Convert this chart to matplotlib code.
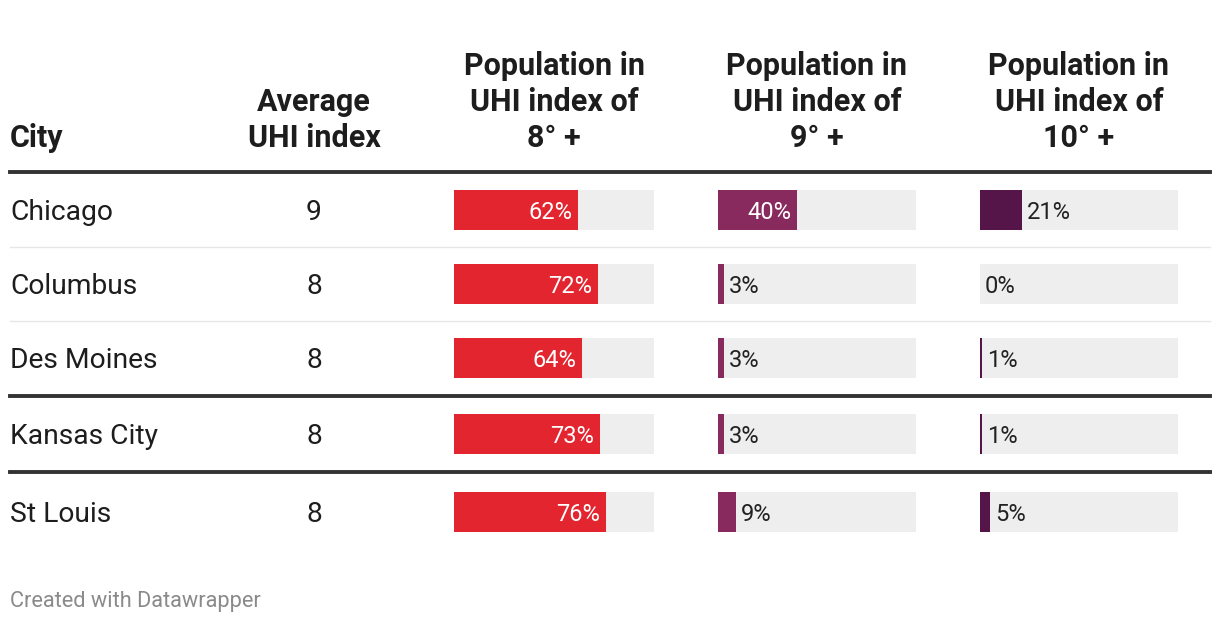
import matplotlib.pyplot as plt
from matplotlib.lines import Line2D

plt.rcParams['font.family'] = ['Roboto', 'DejaVu Sans']

cities = ["Chicago", "Columbus", "Des Moines", "Kansas City", "St Louis"]
avg_uhi = [9, 8, 8, 8, 8]
pop_8 = [62, 72, 64, 73, 76]
pop_9 = [40, 3, 3, 3, 9]
pop_10 = [21, 0, 1, 1, 5]

headers = [
    ["City"],
    ["Average", "UHI index"],
    ["Population in", "UHI index of", "8\u00b0 +"],
    ["Population in", "UHI index of", "9\u00b0 +"],
    ["Population in", "UHI index of", "10\u00b0 +"],
]

W, H = 1220, 624
fig = plt.figure(figsize=(W / 100, H / 100), dpi=100)
ax = fig.add_axes([0, 0, 1, 1])
ax.set_xlim(0, W)
ax.set_ylim(H, 0)
ax.axis('off')

row_y = [210, 284, 358, 434, 512]
bar_h = 40
dark = '#1d1d1d'

# header
header_x = [10, 314, 554, 817, 1079]
header_ha = ['left', 'center', 'center', 'center', 'center']
baselines = [75, 111, 147]
for hx, ha, lines in zip(header_x, header_ha, headers):
    for line, by in zip(lines, baselines[-len(lines):]):
        ax.text(hx, by, line, ha=ha, va='baseline', fontsize=22,
                fontweight='bold', color=dark)

# rule lines
ax.add_line(Line2D([10, 1210], [172, 172], color='#333333', lw=2.8))
for yy in [247, 321]:
    ax.add_line(Line2D([10, 1210], [yy, yy], color='#e6e6e6', lw=1))
for yy in [396, 472]:
    ax.add_line(Line2D([10, 1210], [yy, yy], color='#333333', lw=2.8))

# city names and average index
for name, val, ry in zip(cities, avg_uhi, row_y):
    ax.text(10, ry + 10, name, ha='left', va='baseline', fontsize=20.3, color=dark)
    ax.text(314, ry + 10, str(val), ha='center', va='baseline', fontsize=20.3, color=dark)

# bar columns
columns = [
    (454, 654, pop_8, '#e3252f'),
    (718, 916, pop_9, '#892a5f'),
    (980, 1178, pop_10, '#561548'),
]
for x0, x1, vals, col in columns:
    bx = fig.add_axes([x0 / W, 0, (x1 - x0) / W, 1])
    bx.set_xlim(0, 100)
    bx.set_ylim(H, 0)
    bx.axis('off')
    bx.patch.set_alpha(0)
    bx.barh(row_y, [100] * len(vals), height=bar_h, color='#eeeeee', left=0)
    bx.barh(row_y, vals, height=bar_h, color=col)
    for v, ry in zip(vals, row_y):
        label = f"{v}%"
        if v >= 30:
            bx.annotate(label, (v, ry + 9), xytext=(-6, 0), textcoords='offset pixels',
                        ha='right', va='baseline', fontsize=17, color='white')
        else:
            bx.annotate(label, (v, ry + 9), xytext=(5, 0), textcoords='offset pixels',
                        ha='left', va='baseline', fontsize=17, color='#222222')

ax.text(10, 607, "Created with Datawrapper", ha='left', va='baseline',
        fontsize=15.7, color='#8a8a8a')

fig.savefig('out.png', dpi=100)
